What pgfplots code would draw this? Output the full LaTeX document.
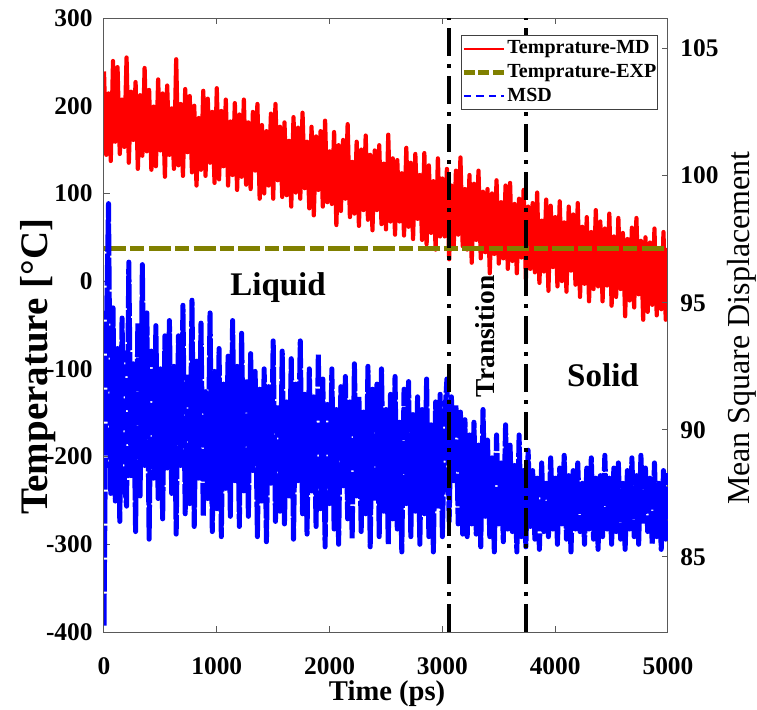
\documentclass[border=0pt]{standalone}
\usepackage{fontspec}
\setmainfont{Liberation Serif}
\usepackage{pgfplots}
\usepackage{pgfplotstable}
\pgfplotsset{compat=1.18}
\definecolor{olivemat}{rgb}{0.5,0.5,0}
\definecolor{axgray}{gray}{0.35}

\pgfplotstableread[row sep=\\]{
t T\\
0 239\\ 20 144\\ 40 214\\ 60 137\\ 80 251\\ 100 159\\ 120 244\\ 140 145\\ 160 207\\ 180 153\\
200 255\\ 220 135\\ 240 216\\ 260 161\\ 280 227\\ 300 128\\ 320 212\\ 340 143\\ 360 243\\ 380 148\\
400 218\\ 420 127\\ 440 199\\ 460 131\\ 480 230\\ 500 149\\ 520 214\\ 540 119\\ 560 223\\ 580 144\\
600 197\\ 620 128\\ 640 253\\ 660 132\\ 680 202\\ 700 120\\ 720 219\\ 740 147\\ 760 211\\ 780 124\\
800 200\\ 820 109\\ 840 186\\ 860 127\\ 880 217\\ 900 120\\ 920 208\\ 940 135\\ 960 193\\ 980 112\\
1000 220\\ 1020 116\\ 1040 194\\ 1060 131\\ 1080 207\\ 1100 109\\ 1120 182\\ 1140 121\\ 1160 203\\ 1180 104\\
1200 190\\ 1220 119\\ 1240 207\\ 1260 110\\ 1280 181\\ 1300 105\\ 1320 193\\ 1340 126\\ 1360 202\\ 1380 94\\
1400 178\\ 1420 100\\ 1440 171\\ 1460 109\\ 1480 191\\ 1500 94\\ 1520 202\\ 1540 115\\ 1560 176\\ 1580 96\\
1600 181\\ 1620 98\\ 1640 160\\ 1660 85\\ 1680 187\\ 1700 101\\ 1720 175\\ 1740 94\\ 1760 192\\ 1780 106\\
1800 159\\ 1820 83\\ 1840 176\\ 1860 75\\ 1880 165\\ 1900 104\\ 1920 171\\ 1940 85\\ 1960 183\\ 1980 90\\
2000 148\\ 2020 88\\ 2040 170\\ 2060 64\\ 2080 155\\ 2100 80\\ 2120 161\\ 2140 94\\ 2160 179\\ 2180 73\\
2200 136\\ 2220 77\\ 2240 159\\ 2260 63\\ 2280 150\\ 2300 81\\ 2320 166\\ 2340 70\\ 2360 144\\ 2380 58\\
2400 149\\ 2420 81\\ 2440 155\\ 2460 65\\ 2480 134\\ 2500 59\\ 2520 167\\ 2540 68\\ 2560 140\\ 2580 53\\
2600 138\\ 2620 68\\ 2640 123\\ 2660 52\\ 2680 152\\ 2700 62\\ 2720 135\\ 2740 48\\ 2760 145\\ 2780 71\\
2800 121\\ 2820 47\\ 2840 146\\ 2860 42\\ 2880 132\\ 2900 55\\ 2920 114\\ 2940 36\\ 2960 140\\ 2980 51\\
3000 117\\ 3020 51\\ 3040 128\\ 3060 25\\ 3080 109\\ 3100 37\\ 3120 126\\ 3140 53\\ 3160 141\\ 3180 40\\
3200 105\\ 3220 36\\ 3240 121\\ 3260 21\\ 3280 111\\ 3300 47\\ 3320 126\\ 3340 26\\ 3360 102\\ 3380 33\\
3400 105\\ 3420 9\\ 3440 100\\ 3460 31\\ 3480 115\\ 3500 20\\ 3520 90\\ 3540 26\\ 3560 109\\ 3580 14\\
3600 112\\ 3620 23\\ 3640 88\\ 3660 9\\ 3680 94\\ 3700 27\\ 3720 104\\ 3740 2\\ 3760 85\\ 3780 14\\
3800 89\\ 3820 10\\ 3840 101\\ 3860 -2\\ 3880 69\\ 3900 11\\ 3920 93\\ 3940 -11\\ 3960 86\\ 3980 16\\
4000 73\\ 4020 -6\\ 4040 91\\ 4060 0\\ 4080 67\\ 4100 -12\\ 4120 85\\ 4140 12\\ 4160 76\\ 4180 -4\\
4200 89\\ 4220 -18\\ 4240 62\\ 4260 -3\\ 4280 73\\ 4300 -23\\ 4320 56\\ 4340 -9\\ 4360 81\\ 4380 -6\\
4400 68\\ 4420 -23\\ 4440 60\\ 4460 -5\\ 4480 77\\ 4500 -28\\ 4520 51\\ 4540 -18\\ 4560 72\\ 4580 -9\\
4600 55\\ 4620 -40\\ 4640 48\\ 4660 -22\\ 4680 61\\ 4700 -30\\ 4720 72\\ 4740 -15\\ 4760 46\\ 4780 -44\\
4800 50\\ 4820 -35\\ 4840 44\\ 4860 -27\\ 4880 60\\ 4900 -39\\ 4920 37\\ 4940 -32\\ 4960 56\\ 4980 -44\\
5000 38\\
}\tempmd

\pgfplotstableread[row sep=\\]{
t M\\
0 82.3\\ 20 93.5\\ 40 98.9\\ 60 87.5\\ 80 94.8\\ 100 87.2\\ 120 93.2\\ 140 86.4\\ 160 94.4\\ 180 88.0\\
200 87.0\\ 220 96.6\\ 240 88.2\\ 260 92.6\\ 280 86.0\\ 300 94.2\\ 320 87.4\\ 340 96.5\\ 360 88.6\\ 380 94.6\\
400 85.7\\ 420 93.1\\ 440 88.1\\ 460 94.1\\ 480 87.3\\ 500 92.4\\ 520 86.5\\ 540 93.7\\ 560 88.5\\ 580 94.3\\
600 87.5\\ 620 92.5\\ 640 85.9\\ 660 93.7\\ 680 88.6\\ 700 94.9\\ 720 86.7\\ 740 92.2\\ 760 87.1\\ 780 95.1\\
800 86.2\\ 820 92.7\\ 840 88.1\\ 860 94.2\\ 880 86.6\\ 900 91.5\\ 920 87.3\\ 940 94.6\\ 960 86.0\\ 980 92.3\\
1000 86.9\\ 1020 93.2\\ 1040 85.8\\ 1060 91.8\\ 1080 87.7\\ 1100 92.9\\ 1120 86.6\\ 1140 94.3\\ 1160 88.0\\ 1180 92.5\\
1200 86.2\\ 1220 93.8\\ 1240 87.6\\ 1260 92.0\\ 1280 86.6\\ 1300 93.0\\ 1320 88.4\\ 1340 92.3\\ 1360 85.8\\ 1380 91.6\\
1400 87.2\\ 1420 92.4\\ 1440 85.6\\ 1460 91.7\\ 1480 87.9\\ 1500 93.5\\ 1520 86.4\\ 1540 91.0\\ 1560 86.8\\ 1580 93.1\\
1600 86.3\\ 1620 91.1\\ 1640 87.4\\ 1660 92.8\\ 1680 85.7\\ 1700 91.8\\ 1720 88.0\\ 1740 93.5\\ 1760 86.7\\ 1780 91.4\\
1800 85.9\\ 1820 92.4\\ 1840 87.6\\ 1860 91.3\\ 1880 86.2\\ 1900 93.0\\ 1920 86.9\\ 1940 92.0\\ 1960 85.4\\ 1980 91.0\\
2000 87.1\\ 2020 92.4\\ 2040 86.1\\ 2060 90.8\\ 2080 85.5\\ 2100 91.7\\ 2120 87.8\\ 2140 92.1\\ 2160 86.5\\ 2180 91.1\\
2200 85.7\\ 2220 92.6\\ 2240 87.4\\ 2260 91.3\\ 2280 86.0\\ 2300 90.7\\ 2320 86.7\\ 2340 92.5\\ 2360 85.4\\ 2380 91.6\\
2400 87.2\\ 2420 91.8\\ 2440 85.8\\ 2460 92.4\\ 2480 86.8\\ 2500 90.8\\ 2520 85.5\\ 2540 91.4\\ 2560 86.5\\ 2580 92.1\\
2600 86.1\\ 2620 90.3\\ 2640 85.2\\ 2660 91.6\\ 2680 87.1\\ 2700 91.9\\ 2720 85.8\\ 2740 90.6\\ 2760 86.8\\ 2780 91.3\\
2800 85.5\\ 2820 90.8\\ 2840 86.7\\ 2860 92.0\\ 2880 85.8\\ 2900 90.2\\ 2920 85.2\\ 2940 91.1\\ 2960 87.0\\ 2980 91.4\\
3000 85.8\\ 3020 90.4\\ 3040 92.0\\ 3060 86.4\\ 3080 91.3\\ 3100 88.0\\ 3120 91.0\\ 3140 86.3\\ 3160 90.7\\ 3180 85.9\\
3200 90.4\\ 3220 85.8\\ 3240 89.8\\ 3260 86.3\\ 3280 90.3\\ 3300 85.9\\ 3320 89.4\\ 3340 85.4\\ 3360 90.8\\ 3380 86.6\\
3400 89.6\\ 3420 85.8\\ 3440 88.9\\ 3460 85.2\\ 3480 89.8\\ 3500 86.3\\ 3520 88.7\\ 3540 85.6\\ 3560 90.2\\ 3580 86.1\\
3600 89.4\\ 3620 86.0\\ 3640 88.6\\ 3660 85.2\\ 3680 89.8\\ 3700 85.8\\ 3720 88.4\\ 3740 85.4\\ 3760 89.2\\ 3780 86.2\\
3800 88.4\\ 3820 85.7\\ 3840 88.1\\ 3860 85.3\\ 3880 88.7\\ 3900 86.0\\ 3920 87.9\\ 3940 85.8\\ 3960 88.9\\ 3980 86.1\\
4000 88.1\\ 4020 85.5\\ 4040 88.5\\ 4060 86.3\\ 4080 89.0\\ 4100 85.7\\ 4120 88.2\\ 4140 85.2\\ 4160 88.4\\ 4180 86.1\\
4200 88.7\\ 4220 86.0\\ 4240 87.9\\ 4260 85.5\\ 4280 88.5\\ 4300 86.1\\ 4320 88.9\\ 4340 85.7\\ 4360 88.1\\ 4380 85.3\\
4400 88.2\\ 4420 85.8\\ 4440 89.0\\ 4460 86.1\\ 4480 88.1\\ 4500 85.5\\ 4520 88.5\\ 4540 86.0\\ 4560 88.7\\ 4580 85.7\\
4600 87.9\\ 4620 85.3\\ 4640 88.4\\ 4660 86.1\\ 4680 88.9\\ 4700 85.8\\ 4720 88.2\\ 4740 85.5\\ 4760 89.0\\ 4780 86.3\\
4800 88.5\\ 4820 86.0\\ 4840 88.1\\ 4860 85.5\\ 4880 88.7\\ 4900 85.8\\ 4920 87.9\\ 4940 85.3\\ 4960 88.4\\ 4980 85.7\\
5000 88.3\\
}\msd

\pgfplotsset{
  common/.style={
    scale only axis, width=282pt, height=307pt,
    xmin=0, xmax=5000,
    tick align=inside, major tick length=3pt,
    axis line style={axgray, line width=0.5pt},
    tick style={axgray, line width=0.5pt},
    tick label style={font=\bfseries\fontsize{12.7}{13}\selectfont, text=black},
    /pgf/number format/assume math mode=true,
    /pgf/number format/1000 sep={},
  }
}

\begin{document}
\begin{tikzpicture}
\begin{axis}[common,
  ymin=-400, ymax=300,
  xtick={0,1000,2000,3000,4000,5000},
  ytick={-400,-300,-200,-100,0,100,200,300},
  xtick pos=both, ytick pos=left,
  xticklabel style={anchor=north, inner sep=0pt, yshift=-12.5pt},
  yticklabel style={anchor=east, inner sep=0pt, xshift=-5.5pt},
  xlabel={Time (ps)},
  xlabel style={font=\bfseries\fontsize{14.3}{15}\selectfont, at={(axis description cs:0.502,0)}, anchor=base, yshift=-34pt},
  ylabel={Temperature [°C]},
  ylabel style={font=\bfseries\fontsize{19.5}{20}\selectfont, at={(axis description cs:-0.101,0.432)}, anchor=base},
]
\addplot[red, line width=2.1pt, line join=round] table[x=t, y=T] {\tempmd};
\addplot[olivemat, line width=2.5pt, dash pattern=on 11pt off 2.2pt on 7pt off 2.2pt] coordinates {(0,37) (5000,37)};
\node[font=\bfseries\fontsize{16.5}{17}\selectfont, anchor=base] at (axis cs:1543,-16) {Liquid};
\node[font=\bfseries\fontsize{16.5}{17}\selectfont, anchor=base] at (axis cs:4424,-120) {Solid};
\node[font=\bfseries\fontsize{13.7}{14}\selectfont, rotate=90, anchor=base] at (axis cs:3466,-63) {Transition};
\end{axis}

\begin{axis}[common,
  ymin=82.05, ymax=106.2,
  axis x line=none, axis y line*=right,
  ytick={85,90,95,100,105},
  yticklabel style={anchor=west, inner sep=0pt, xshift=6pt},
  ylabel={Mean Square Displacement},
  ylabel style={font=\fontsize{16}{17}\selectfont, at={(axis description cs:1.145,0.495)}, anchor=base, rotate=0},
  legend style={at={(axis description cs:0.982,0.972)}, anchor=north east,
    draw=black!75, line width=0.5pt, fill=white,
    font=\bfseries\fontsize{10}{10}\selectfont,
    inner xsep=0pt, inner ysep=1.5pt, row sep=1.8pt,
    nodes={inner xsep=0.5pt, inner ysep=1pt}},
  legend cell align=left,
  legend image code/.code={\draw[#1] (0pt,0pt) -- (20pt,0pt);},
]
\addlegendimage{red, line width=1pt}
\addlegendentry{Temprature-MD}
\addlegendimage{olivemat, line width=2.5pt, dash pattern=on 5.5pt off 1.7pt}
\addlegendentry{Temprature-EXP}
\addlegendimage{blue, line width=1pt, dash pattern=on 3.75pt off 2.5pt}
\addlegendentry{MSD}
\addplot[blue, line width=2.5pt, line join=round, dash pattern=on 16pt off 1pt, forget plot] table[x=t, y=M] {\msd};
\addplot[black, line width=2pt, dash pattern=on 14pt off 4pt on 2pt off 4pt, forget plot] coordinates {(3060,82.05) (3060,106.2)};
\addplot[black, line width=2pt, dash pattern=on 14pt off 4pt on 2pt off 4pt, forget plot] coordinates {(3740,82.05) (3740,106.2)};
\end{axis}
\pgfresetboundingbox
\path[use as bounding box] (-52pt,-38.5pt) rectangle (326.5pt,316pt);
\end{tikzpicture}
\end{document}
